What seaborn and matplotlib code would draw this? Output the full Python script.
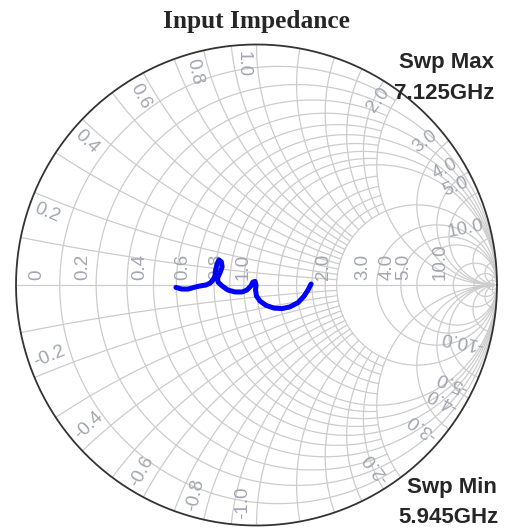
import numpy as np
import pandas as pd
import matplotlib.pyplot as plt
import seaborn as sns

#  Trace data: reflection coefficient (5.945 GHz -> 7.125 GHz)
gamma_re = [-0.335, -0.310, -0.285, -0.260, -0.235, -0.210, -0.193, -0.181, -0.173, -0.170,
            -0.164, -0.156, -0.146, -0.143, -0.152, -0.162, -0.160, -0.143, -0.119, -0.089,
            -0.060, -0.040, -0.023, -0.015, -0.006, -0.002, -0.004, 0.000, 0.015, 0.040,
            0.073, 0.106, 0.139, 0.173, 0.198, 0.214, 0.227]
gamma_im = [-0.010, -0.017, -0.017, -0.010, -0.004, 0.000, 0.008, 0.021, 0.037, 0.062,
            0.087, 0.104, 0.096, 0.075, 0.050, 0.029, 0.012, -0.004, -0.021, -0.029,
            -0.029, -0.021, -0.004, 0.012, 0.015, 0.000, -0.021, -0.046, -0.067, -0.085,
            -0.096, -0.098, -0.091, -0.073, -0.046, -0.021, 0.004]

#  Smith grid values
r_major = [0.2, 0.4, 0.6, 0.8, 1.0, 2.0, 3.0, 4.0, 5.0, 10.0, 20.0, 50.0]
r_minor = [0.1, 0.3, 0.5, 0.7, 0.9, 1.2, 1.4, 1.6, 1.8]
x_major = [2.0, 3.0, 4.0, 5.0, 10.0, 20.0, 50.0]
x_minor = [0.1, 0.2, 0.3, 0.4, 0.5, 0.6, 0.7, 0.8, 0.9, 1.0, 1.2, 1.4, 1.6, 1.8]
r_labels = [0, 0.2, 0.4, 0.6, 0.8, 1.0, 2.0, 3.0, 4.0, 5.0, 10.0]
x_labels = [0.2, 0.4, 0.6, 0.8, 1.0, 2.0, 3.0, 4.0, 5.0, 10.0]

sns.set_theme(style="white")
plt.rcParams['font.family'] = ['Liberation Sans', 'DejaVu Sans']

GRID = '#cccccc'
LABEL = '#a2a5b2'


def gamma(z):
    return (z - 1) / (z + 1)


fig = plt.figure(figsize=(5.14, 5.31), dpi=100)
ax = fig.add_axes([16 / 514, 5.5 / 531, 481 / 514, 481 / 531])
ax.set_xlim(-1, 1)
ax.set_ylim(-1, 1)
ax.axis('off')

# resistance circles (minor ones stop at |x| = 2)
for r, xmax in [(r, np.inf) for r in r_major] + [(r, 2.0) for r in r_minor]:
    t = np.linspace(-np.arctan(xmax), np.arctan(xmax), 800)
    g = gamma(r + 1j * np.tan(t))
    ax.plot(g.real, g.imag, color=GRID, lw=0.9, zorder=1)

# reactance arcs (minor ones stop at r = 2)
for x, rmax in [(x, np.inf) for x in x_major] + [(x, 2.0) for x in x_minor]:
    t = np.linspace(0, np.arctan(rmax), 800)
    for s in (1, -1):
        g = gamma(np.tan(t) + 1j * s * x)
        ax.plot(g.real, g.imag, color=GRID, lw=0.9, zorder=1)

ax.plot([-1, 1], [0, 0], color=GRID, lw=0.9, zorder=1)
th = np.linspace(0, 2 * np.pi, 720)
ax.plot(np.cos(th), np.sin(th), color='#333333', lw=1.3, zorder=3, clip_on=False)

# real-axis labels
for r in r_labels:
    xc = (r - 1) / (r + 1)
    if r == 0:
        ax.annotate('0', xy=(xc, 0), xytext=(12, 5), textcoords='offset pixels',
                    rotation=90, ha='left', va='bottom', color=LABEL, fontsize=13.5, zorder=2)
    else:
        ax.annotate(f"{r:.1f}", xy=(xc, 0), xytext=(-5, 5), textcoords='offset pixels',
                    rotation=90, ha='right', va='bottom', color=LABEL, fontsize=13.5, zorder=2)

# reactance labels around the rim
for xv in x_labels:
    for s in (1, -1):
        th0 = np.angle(gamma(1j * s * xv))
        phi = th0 + s * 0.022
        deg = np.degrees(th0)
        if s < 0:
            rot, ha = deg + 180, 'left'
        elif deg >= 89.999:
            rot, ha = deg - 180, 'left'
        else:
            rot, ha = deg, 'right'
        up = np.radians(rot + 90)
        tx, ty = s * -np.sin(th0), s * np.cos(th0)
        va = 'top' if np.cos(up) * tx + np.sin(up) * ty < 0 else 'bottom'
        ax.text(0.975 * np.cos(phi), 0.975 * np.sin(phi), f"{s * xv:.1f}",
                rotation=rot, rotation_mode='anchor', ha=ha, va=va,
                color=LABEL, fontsize=13.5, zorder=2)

# impedance trace
trace = pd.DataFrame({'re': gamma_re, 'im': gamma_im})
sns.lineplot(data=trace, x='re', y='im', sort=False, estimator=None,
             color='#0000ff', lw=3.6, ax=ax, zorder=4)
ax.set_xlim(-1, 1)
ax.set_ylim(-1, 1)

fig.text(256.5 / 514, 1 - 28 / 531, 'Input Impedance', ha='center', va='baseline',
         family='Liberation Serif', weight='bold', fontsize=18.3)
fig.text(494 / 514, 1 - 68 / 531, 'Swp Max', ha='right', va='baseline', weight='bold', fontsize=16)
fig.text(494 / 514, 1 - 99 / 531, '7.125GHz', ha='right', va='baseline', weight='bold', fontsize=16)
fig.text(497 / 514, 1 - 493 / 531, 'Swp Min', ha='right', va='baseline', weight='bold', fontsize=16)
fig.text(498 / 514, 1 - 523 / 531, '5.945GHz', ha='right', va='baseline', weight='bold', fontsize=16)

fig.savefig('out.png', dpi=100)
